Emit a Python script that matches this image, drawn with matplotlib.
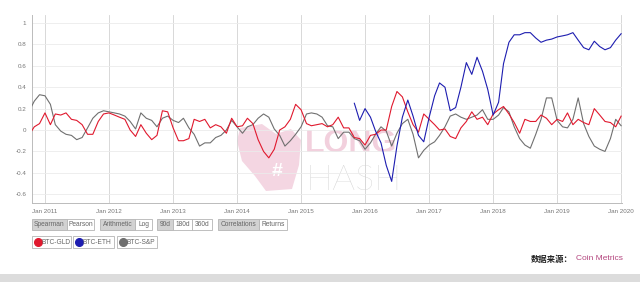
import matplotlib
matplotlib.use('Agg')
import matplotlib.pyplot as plt
from matplotlib.patches import Rectangle, Polygon
from matplotlib.lines import Line2D
import pandas as pd

plt.rcParams['font.family'] = ['Liberation Sans', 'DejaVu Sans']

# 90天滚动相关系数（按月读取）
months = pd.date_range('2010-10-01', '2020-01-01', freq='MS')
btc_gld = [
    -0.05, 0.03, 0.06,                                                    # 2010
    0.16, 0.05, 0.15, 0.14, 0.16, 0.10, 0.09, 0.05, -0.04, -0.04, 0.08, 0.15,   # 2011
    0.16, 0.14, 0.12, 0.10, 0.00, -0.06, 0.05, -0.03, -0.09, -0.05, 0.18, 0.17,  # 2012
    0.02, -0.10, -0.10, -0.08, 0.10, 0.08, 0.10, 0.02, 0.05, 0.03, -0.03, 0.11,  # 2013
    0.03, 0.04, 0.11, 0.06, -0.09, -0.20, -0.26, -0.18, 0.00, 0.03, 0.10, 0.24,  # 2014
    0.19, 0.06, 0.04, 0.05, 0.06, 0.03, 0.05, 0.12, 0.02, 0.02, -0.07, -0.08,    # 2015
    -0.14, -0.05, -0.04, 0.00, 0.00, 0.22, 0.36, 0.31, 0.17, 0.05, -0.02, 0.15,  # 2016
    0.10, 0.05, 0.00, 0.01, -0.06, -0.08, 0.02, 0.08, 0.17, 0.10, 0.12, 0.05,    # 2017
    0.15, 0.19, 0.22, 0.15, 0.07, -0.03, 0.10, 0.08, 0.08, 0.14, 0.11, 0.05,     # 2018
    0.10, 0.08, 0.16, 0.05, 0.10, 0.07, 0.05, 0.20, 0.14, 0.08, 0.07, 0.03,      # 2019
    0.13,                                                                 # 2020
]
btc_sp = [
    0.17, 0.27, 0.33,
    0.32, 0.24, 0.05, -0.01, -0.04, -0.05, -0.09, -0.07, 0.02, 0.11, 0.16, 0.18,
    0.17, 0.16, 0.15, 0.13, 0.08, 0.01, 0.16, 0.11, 0.09, 0.03, 0.11, 0.13,
    0.09, 0.07, 0.11, 0.02, -0.04, -0.15, -0.12, -0.12, -0.07, -0.05, 0.00, 0.09,
    0.03, -0.03, 0.03, 0.05, 0.11, 0.15, 0.12, 0.01, -0.05, -0.15, -0.10, -0.04,
    0.03, 0.15, 0.16, 0.15, 0.12, 0.04, 0.03, -0.08, -0.02, -0.02, -0.08, -0.10,
    -0.18, -0.12, -0.04, 0.03, -0.01, -0.15, -0.03, 0.06, 0.10, -0.04, -0.26, -0.19,
    -0.14, -0.11, -0.05, 0.03, 0.13, 0.15, 0.12, 0.10, 0.12, 0.14, 0.19, 0.10,
    0.10, 0.14, 0.21, 0.17, 0.03, -0.08, -0.14, -0.17, -0.04, 0.10, 0.30, 0.30,
    0.09, 0.03, 0.02, 0.10, 0.30, 0.06, -0.06, -0.15, -0.18, -0.20, -0.08, 0.10,
    0.04,
]
eth_months = pd.date_range('2015-11-01', '2020-01-01', freq='MS')
btc_eth = [
    0.25, 0.09,
    0.20, 0.12, -0.01, -0.12, -0.33, -0.48, -0.15, 0.12, 0.28, 0.13, -0.05, -0.11,
    0.12, 0.32, 0.44, 0.40, 0.18, 0.21, 0.40, 0.63, 0.52, 0.68, 0.55, 0.38,
    0.14, 0.26, 0.62, 0.82, 0.89, 0.89, 0.91, 0.91, 0.86, 0.82, 0.84, 0.85,
    0.87, 0.88, 0.89, 0.91, 0.84, 0.77, 0.75, 0.83, 0.78, 0.75, 0.77, 0.84,
    0.90,
]
yticks = [1, 0.8, 0.6, 0.4, 0.2, 0, -0.2, -0.4, -0.6]
ytick_labels = ['1', '0.8', '0.6', '0.4', '0.2', '0', '-0.2', '-0.4', '-0.6']
years = list(range(2011, 2021))

W, H = 640, 282


def fx(px):
    return px / W


def fy(py):
    return 1 - py / H


fig = plt.figure(figsize=(W / 100, H / 100), dpi=100)
ax = fig.add_axes([fx(32), fy(203), fx(622) - fx(32), fy(15) - fy(203)])
ax.set_facecolor('none')

# 水印
wm = Polygon([(fx(240), fy(128)), (fx(262), fy(124)), (fx(276), fy(134)), (fx(291), fy(129)),
              (fx(301), fy(140)), (fx(299), fy(165)), (fx(292), fy(189)), (fx(266), fy(191)),
              (fx(255), fy(176)), (fx(242), fy(161)), (fx(237), fy(141))],
             closed=True, transform=fig.transFigure, facecolor='#f4d6e2', edgecolor='none',
             zorder=-2)
fig.patches.append(wm)
fig.text(fx(277), fy(172), '#', fontsize=14, fontweight='bold', color='white',
         ha='center', va='center', zorder=-1)
fig.text(fx(305), fy(152), 'LONG', fontsize=23, fontweight='bold', color='#f2d0dd',
         ha='left', va='baseline', zorder=-1)
fig.text(fx(306), fy(190), 'HASH', fontsize=26, fontweight='light', color='#cfcfcf',
         family=['Lato', 'DejaVu Sans'], ha='left', va='baseline', zorder=-1)

ax.plot(months, btc_sp, color='#707070', lw=0.8, zorder=3)
ax.plot(months, btc_gld, color='#e0192e', lw=0.8, zorder=4)
ax.plot(eth_months, btc_eth, color='#1d1db0', lw=0.8, zorder=5)

ax.set_xlim(pd.Timestamp('2010-10-19'), pd.Timestamp('2020-01-06'))
ax.set_ylim(-0.682, 1.075)
ax.set_yticks(yticks)
ax.set_yticklabels(ytick_labels)
ax.set_xticks([pd.Timestamp(f'{y}-01-01') for y in years])
ax.set_xticklabels([f'Jan {y}' for y in years])
ax.tick_params(length=0, labelsize=4.5, colors='#777777', pad=4)
ax.grid(axis='y', color='#ebebeb', lw=0.6)
ax.grid(axis='x', color='#d2d2d2', lw=0.6)
ax.set_axisbelow(True)
for s in ['top', 'right']:
    ax.spines[s].set_visible(False)
for s in ['left', 'bottom']:
    ax.spines[s].set_color('#bbbbbb')
    ax.spines[s].set_linewidth(0.7)


def button(x0, x1, y0, y1, label, selected):
    r = Rectangle((fx(x0), fy(y1)), fx(x1) - fx(x0), fy(y0) - fy(y1), transform=fig.transFigure,
                  facecolor='#d2d2d2' if selected else 'white', edgecolor='#b4b4b4', lw=0.6)
    fig.patches.append(r)
    fig.text(fx((x0 + x1) / 2), fy((y0 + y1) / 2), label, fontsize=4.8, color='#666666',
             ha='center', va='center')


# 控件按钮
for x0, x1, label, sel in [(32, 67, 'Spearman', True), (67, 94, 'Pearson', False),
                           (100, 135, 'Arithmetic', True), (135, 152, 'Log', False),
                           (157, 173, '90d', True), (173, 192, '180d', False), (192, 212, '360d', False),
                           (218, 259, 'Correlations', True), (259, 287, 'Returns', False)]:
    button(x0, x1, 219, 230, label, sel)

for x0, x1, label, c in [(32, 71, 'BTC-GLD', '#e0192e'), (73, 114, 'BTC-ETH', '#1d1db0'),
                         (117, 157, 'BTC-S&P', '#6e6e6e')]:
    r = Rectangle((fx(x0), fy(248)), fx(x1) - fx(x0), fy(236) - fy(248), transform=fig.transFigure,
                  facecolor='white', edgecolor='#b4b4b4', lw=0.6)
    fig.patches.append(r)
    fig.add_artist(Line2D([fx(x0 + 5.5)], [fy(242)], marker='o', markersize=5.5, color=c,
                          transform=fig.transFigure))
    fig.text(fx(x0 + 9.5), fy(242), label, fontsize=4.8, color='#666666', ha='left', va='center')

fig.text(fx(573), fy(259), '数据来源：', family=['Noto Sans CJK SC', 'DejaVu Sans'],
         fontsize=6, fontweight='bold', color='#222222', ha='right', va='center')
fig.text(fx(623), fy(259), 'Coin Metrics', fontsize=6, color='#b4467f', ha='right', va='center')

band = Rectangle((0, 0), 1, fy(274), transform=fig.transFigure, facecolor='#dcdcdc',
                 edgecolor='none')
fig.patches.append(band)

fig.savefig('out.png', dpi=100)
